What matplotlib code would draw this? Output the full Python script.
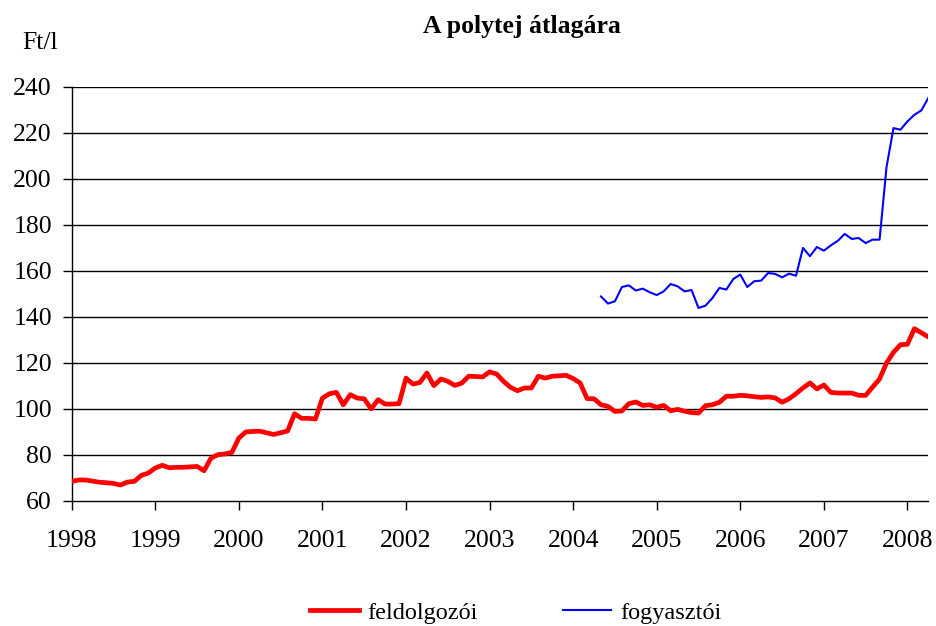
import matplotlib
matplotlib.use("Agg")
import matplotlib.pyplot as plt
import numpy as np

# monthly average prices, Ft/l
# feldolgozói: Jan 1998 .. Apr 2008
feldolgozoi = [
    68.4, 69.0, 69.0, 68.5, 68.0, 67.8, 67.5, 66.8, 68.1, 68.4, 71.0, 72.0,
    74.2, 75.4, 74.3, 74.5, 74.5, 74.7, 74.9, 73.0, 78.5, 80.0, 80.3, 81.0,
    87.2, 89.9, 90.1, 90.2, 89.5, 88.8, 89.5, 90.3, 97.8, 95.8, 95.8, 95.5,
    104.6, 106.5, 107.1, 101.7, 106.1, 104.6, 104.3, 99.9, 103.9, 102.0, 102.0, 102.2,
    113.3, 110.7, 111.4, 115.5, 110.0, 112.9, 111.9, 110.1, 111.1, 114.1, 114.0, 113.8,
    116.0, 115.1, 111.9, 109.3, 107.8, 109.0, 109.0, 114.1, 113.3, 114.1, 114.3, 114.5,
    113.1, 111.2, 104.4, 104.3, 101.7, 101.0, 98.8, 99.0, 102.2, 102.9, 101.4, 101.7,
    100.6, 101.4, 99.1, 99.7, 98.9, 98.3, 98.1, 101.3, 101.7, 102.8, 105.4, 105.4,
    105.8, 105.6, 105.2, 104.9, 105.1, 104.7, 102.8, 104.3, 106.5, 109.0, 111.2, 108.6,
    110.3, 107.1, 106.8, 106.8, 106.8, 105.8, 105.8, 109.4, 112.9, 119.9, 124.5, 127.8,
    128.0, 134.8, 133.0, 131.2,
]
# fogyasztói: May 2004 .. Apr 2008
fogyasztoi = [
    148.8, 145.7, 146.7, 152.9, 153.6, 151.4, 152.2, 150.6,
    149.4, 151.0, 154.2, 153.2, 151.0, 151.6, 143.8, 144.8, 148.1, 152.5, 151.8, 156.4,
    158.3, 152.9, 155.4, 155.7, 159.0, 158.6, 157.1, 158.7, 157.8, 169.9, 166.3, 170.3,
    168.7, 171.0, 173.0, 176.0, 173.8, 174.2, 172.0, 173.5, 173.5, 205.1, 222.0, 221.3,
    224.9, 227.8, 229.7, 235.1,
]
years = list(range(1998, 2009))
y_ticks = list(range(60, 241, 20))

t_feld = 1998 + np.arange(len(feldolgozoi)) / 12
t_fogy = 2004 + (4 + np.arange(len(fogyasztoi))) / 12

plt.rcParams['font.family'] = ['Liberation Serif', 'DejaVu Serif']

fig = plt.figure(figsize=(9.36, 6.26), dpi=100)
ax = fig.add_axes([0.0766, 0.2002, 0.9152, 0.6613])

for v in y_ticks[1:]:
    ax.axhline(v, color='black', lw=1.0, zorder=1)

l1, = ax.plot(t_feld, feldolgozoi, color='#ff0000', lw=3.4, label='feldolgozói', zorder=3)
l2, = ax.plot(t_fogy, fogyasztoi, color='#0000ff', lw=1.5, label='fogyasztói', zorder=3)

ax.set_xlim(1998, 1998 + 123 / 12)
ax.set_ylim(60, 240)
ax.set_xticks(years)
ax.set_yticks(y_ticks)
ax.tick_params(axis='both', direction='out', length=6.3, width=1.0, labelsize=18.5, colors='black')
ax.tick_params(axis='y', pad=8)
ax.tick_params(axis='x', pad=15)
for s in ['top', 'right']:
    ax.spines[s].set_visible(False)
for s in ['left', 'bottom']:
    ax.spines[s].set_linewidth(1.0)
    ax.spines[s].set_color('black')

fig.text(0.558, 0.957, 'A polytej átlagára', ha='center', va='center',
         fontsize=18.5, fontweight='bold')
fig.text(0.0433, 0.931, 'Ft/l', ha='center', va='center', fontsize=18.5)

fig.legend(handles=[l1, l2], loc='center', bbox_to_anchor=(0.551, 0.021), ncol=2,
           frameon=False, fontsize=17.5, handlelength=2.0, handletextpad=0.35,
           columnspacing=3.5)

fig.savefig('out.png', dpi=100)
